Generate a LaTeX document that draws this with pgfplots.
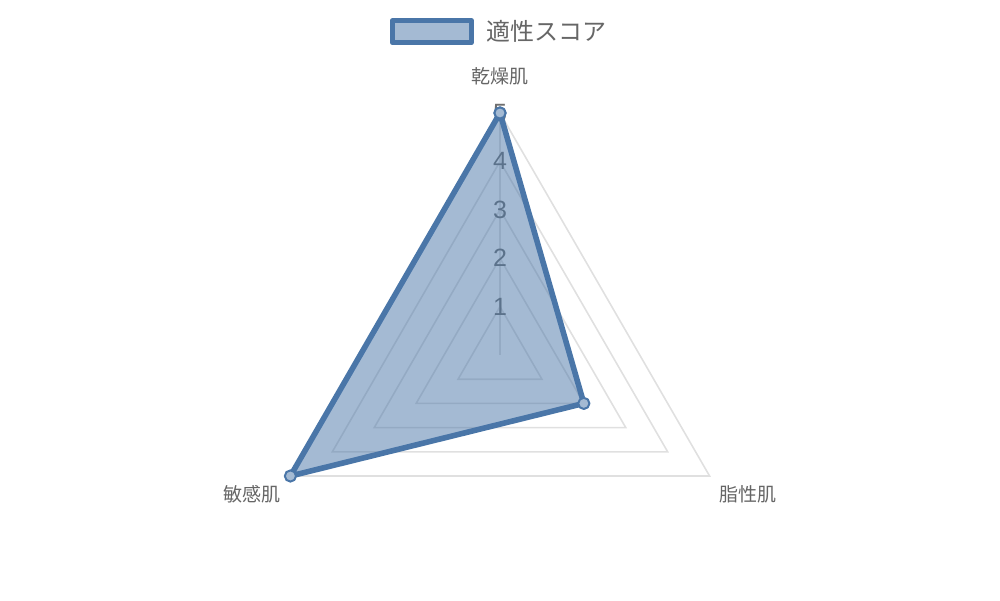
\documentclass[border=0pt]{standalone}
\usepackage{fontspec}
\setmainfont{Noto Sans CJK JP}
\newfontfamily\numfont{Liberation Sans}
\usepackage{pgfplots}
\pgfplotsset{compat=1.18}
\usepgfplotslibrary{polar}
\definecolor{series}{HTML}{4A76A8}
\definecolor{gridc}{HTML}{E0E0E0}
\definecolor{labc}{HTML}{666666}
\definecolor{tickc}{HTML}{6E6E6E}

\begin{document}
\begin{tikzpicture}
\begin{polaraxis}[
  scale only axis, width=242pt, height=242pt,
  xmin=0, xmax=360, ymin=0, ymax=5,
  hide axis, clip=false,
  legend style={at={(0.5,1.168)}, anchor=center, draw=none, fill=none,
    font=\fontsize{12}{14}\selectfont, text=labc},
  legend image code/.code={%
    \draw[series, line width=2.5pt, fill=series, fill opacity=0.5] (0pt,-5.5pt) rectangle (39.5pt,5.5pt);
    \path (43.5pt,0pt);},
]
\coordinate (c) at (axis cs:0,0);
% grid triangles
\addplot[gridc, line width=0.8pt, forget plot] coordinates {(90,1) (210,1) (330,1) (90,1)};
\addplot[gridc, line width=0.8pt, forget plot] coordinates {(90,2) (210,2) (330,2) (90,2)};
\addplot[gridc, line width=0.8pt, forget plot] coordinates {(90,3) (210,3) (330,3) (90,3)};
\addplot[gridc, line width=0.8pt, forget plot] coordinates {(90,4) (210,4) (330,4) (90,4)};
\addplot[gridc, line width=0.8pt, forget plot] coordinates {(90,5) (210,5) (330,5) (90,5)};
\addplot[gridc, line width=0.8pt, forget plot] coordinates {(90,0) (90,5)};
% radial tick labels
\foreach \r in {1,...,5} {
  \edef\tmp{\noexpand\node[tickc, font=\noexpand\numfont\noexpand\fontsize{12.5}{14}\noexpand\selectfont] at (axis cs:90,\r) {\r};}
  \tmp
}
% data
\addplot[series, line width=2.8pt, line join=round, fill=series, fill opacity=0.5,
  mark=*, mark size=2.8pt,
  mark options={draw=series, fill=series!50!white, line width=1pt, fill opacity=1}]
  coordinates {(90,5) (330,2) (210,5) (90,5)};
\addlegendentry{適性スコア}
% category labels
\node[labc, font=\fontsize{9.5}{11}\selectfont] at (axis cs:90,5.76) {乾燥肌};
\node[labc, font=\fontsize{9.5}{11}\selectfont] at (axis cs:330.7,5.87) {脂性肌};
\node[labc, font=\fontsize{9.5}{11}\selectfont] at (axis cs:209.3,5.87) {敏感肌};
\end{polaraxis}
\path[use as bounding box] (c) ++(-250pt,-122.5pt) rectangle ++(500pt,300pt);
\end{tikzpicture}
\end{document}
